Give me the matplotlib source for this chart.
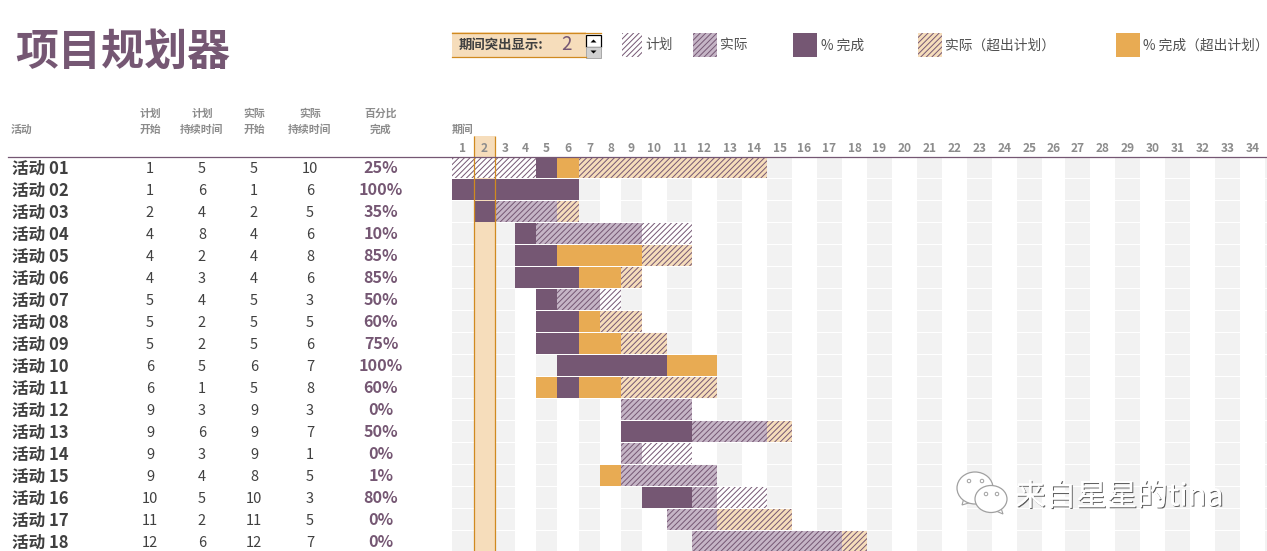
import numpy as np
import matplotlib
matplotlib.use("Agg")
import matplotlib.pyplot as plt
from matplotlib.patches import Rectangle, Ellipse, Polygon
from matplotlib.transforms import blended_transform_factory
import matplotlib.patheffects as pe

plt.rcParams['font.family'] = ['Noto Sans CJK SC', 'DejaVu Sans']
plt.rcParams['hatch.linewidth'] = 0.7

# ---------- data ----------
activities = ['活动 %02d' % i for i in range(1, 19)]
plan_start = [1, 1, 2, 4, 4, 4, 5, 5, 5, 6, 6, 9, 9, 9, 9, 10, 11, 12]
plan_dur = [5, 6, 4, 8, 2, 3, 4, 2, 2, 5, 1, 3, 6, 3, 4, 5, 2, 6]
actual_start = [5, 1, 2, 4, 4, 4, 5, 5, 5, 6, 5, 9, 9, 9, 8, 10, 11, 12]
actual_dur = [10, 6, 5, 6, 8, 6, 3, 5, 6, 7, 8, 3, 7, 1, 5, 3, 5, 7]
percent_done = [25, 100, 35, 10, 85, 85, 50, 60, 75, 100, 60, 0, 50, 0, 1, 80, 0, 0]
periods_done = [2, 6, 1, 1, 6, 5, 1, 3, 4, 7, 4, 0, 3, 0, 1, 2, 0, 0]
periods = list(range(1, 35))
highlight_period = 2
title = '项目规划器'
column_heads = [('计划', '开始'), ('计划', '持续时间'), ('实际', '开始'), ('实际', '持续时间'), ('百分比', '完成')]
legend_labels = ['计划', '实际', '% 完成', '实际（超出计划）', '% 完成（超出计划）']

# ---------- layout / style ----------
W, H = 1267, 551
PURPLE = '#755773'
ORANGE = '#E8AB53'
PEACH = '#F6DDBB'
MAUVE = '#C5B5C6'
STRIPE = '#F2F2F2'
LINE_OR = '#D08A20'
GREY = '#8C8C8C'
DARK = '#404040'
HATCH = '/' * 6
col_widths = [21.5, 21, 20.5, 21, 21, 22, 21, 21, 21, 25, 25, 25, 25, 25, 25, 25, 25, 25, 25,
              25, 25, 25, 25, 25, 25, 23, 25, 25, 25, 25, 25, 25, 25, 25, 25]
edges_px = np.concatenate([[452], 452 + np.cumsum(col_widths)])
edges_p = np.arange(1, len(edges_px) + 1, dtype=float)

fig = plt.figure(figsize=(W / 100, H / 100), dpi=100, facecolor='white')

# page overlay in pixel coordinates (titles, legend, watermark, rules)
pg = fig.add_axes([0, 0, 1, 1], zorder=5)
pg.set_xlim(0, W)
pg.set_ylim(H, 0)
pg.axis('off')
pg.patch.set_alpha(0)

# gantt axes
top_px = 157
row_px = 22
gx = fig.add_axes([452 / W, 0, (W - 452) / W, (H - top_px + 0.5) / H], zorder=2)
gx.set_xscale('function', functions=(lambda p: np.interp(p, edges_p, edges_px),
                                     lambda x: np.interp(x, edges_px, edges_p)))
gx.set_xlim(1, float(np.interp(W, edges_px, edges_p)))
nrows_visible = (H - top_px + 0.5) / row_px
gx.set_ylim(nrows_visible - 0.5, -0.5)
for s in gx.spines.values():
    s.set_visible(False)
gx.set_yticks([])
gx.xaxis.tick_top()
gx.set_xticks([p + 0.5 for p in periods])
gx.set_xticklabels(periods, fontsize=8.6, fontweight='bold', color=GREY)
gx.tick_params(axis='x', length=0, pad=1)
gx.xaxis.set_minor_locator(matplotlib.ticker.NullLocator())

BAR_H = 21 / 22
rows = np.arange(len(activities))
# background stripes
odd = [p for p in range(1, 36, 2)]
for p in odd:
    gx.barh(np.arange(0, 19), 1, left=p, height=BAR_H, color=STRIPE, linewidth=0, zorder=1)

# highlighted column, continues up into the header
tr = gx.get_xaxis_transform()
gx.add_patch(Rectangle((highlight_period, 0), 1, 1 + 20 / (H - top_px), transform=tr,
                       facecolor=PEACH, edgecolor='none', clip_on=False, zorder=1.5))

styles = {
    'plan': dict(color='white', edgecolor=PURPLE, hatch=HATCH, linewidth=0),
    'actual': dict(color=MAUVE, edgecolor=PURPLE, hatch=HATCH, linewidth=0),
    'done': dict(color=PURPLE, linewidth=0),
    'over': dict(color=PEACH, edgecolor=PURPLE, hatch=HATCH, linewidth=0),
    'done_over': dict(color=ORANGE, linewidth=0),
}


def classify(r, p):
    in_plan = plan_start[r] <= p < plan_start[r] + plan_dur[r]
    in_act = actual_start[r] <= p < actual_start[r] + actual_dur[r]
    in_done = actual_start[r] <= p < actual_start[r] + periods_done[r]
    if in_done:
        return 'done' if in_plan else 'done_over'
    if in_act:
        return 'actual' if in_plan else 'over'
    if in_plan:
        return 'plan'
    return None


for r in rows:
    kinds = [classify(r, p) for p in periods]
    i = 0
    while i < len(kinds):
        k = kinds[i]
        if k is None:
            i += 1
            continue
        j = i
        while j + 1 < len(kinds) and kinds[j + 1] == k:
            j += 1
        st = dict(styles[k])
        face = st.pop('color')
        gx.barh(r, j - i + 1, left=periods[i], height=BAR_H, facecolor=face,
                zorder=3, **st)
        i = j + 1

# orange lines around the highlighted column
for p in (highlight_period, highlight_period + 1):
    gx.plot([p, p], [0, 1 + 20 / (H - top_px)], transform=tr, color=LINE_OR, lw=0.9,
            clip_on=False, zorder=4, solid_capstyle='butt')

# header rule
pg.plot([8, W], [156.7, 156.7], color=PURPLE, lw=0.9, zorder=1)

# title
pg.text(15, 52, title, fontsize=31, fontweight='bold', color=PURPLE, va='center', ha='left')

# table body through the gantt's y scale
col_x = [150, 202, 254, 310]
row_tr = blended_transform_factory(pg.transData, gx.transData)
for r in rows:
    gx.text(12, r + 0.07, activities[r], transform=row_tr, fontsize=12, fontweight='bold',
            color=DARK, va='center', ha='left', clip_on=False)
    for x, vals in zip(col_x, (plan_start, plan_dur, actual_start, actual_dur)):
        gx.text(x, r + 0.09, str(vals[r]), transform=row_tr, fontsize=10.5, color=DARK,
                va='center', ha='center', clip_on=False)
    gx.text(381, r + 0.03, '%d%%' % percent_done[r], transform=row_tr, fontsize=11.6,
            fontweight='bold', color=PURPLE, va='center', ha='center', clip_on=False)

# table headings
for x, (a, b) in zip(col_x + [381], column_heads):
    pg.text(x, 113.5, a, fontsize=7.8, color=GREY, va='center', ha='center', fontweight='bold')
    pg.text(x, 129.5, b, fontsize=7.8, color=GREY, va='center', ha='center', fontweight='bold')
pg.text(11, 129.5, '活动', fontsize=7.8, color=GREY, va='center', ha='left', fontweight='bold')
pg.text(452, 129.5, '期间', fontsize=7.8, color=GREY, va='center', ha='left', fontweight='bold')

# period control
pg.add_patch(Rectangle((452, 32), 134, 25.5, facecolor=PEACH, edgecolor='none'))
pg.plot([452, 601], [32.5, 32.5], color=LINE_OR, lw=0.9)
pg.plot([452, 586], [57.3, 57.3], color=LINE_OR, lw=0.9)
pg.text(459, 44.5, '期间突出显示:', fontsize=9.6, fontweight='bold', color=DARK, va='center', ha='left')
pg.text(566, 45, str(highlight_period), fontsize=13.5, color=PURPLE, va='center', ha='center')
pg.add_patch(Rectangle((586, 35), 15, 11.5, facecolor='white', edgecolor='black', lw=0.9))
pg.add_patch(Rectangle((586, 47), 15, 11, facecolor='#D0D0D0', edgecolor='#A8A8A8', lw=0.7))
pg.add_patch(Polygon([[590.5, 42.5], [596.5, 42.5], [593.5, 39.5]], facecolor='black', edgecolor='none'))
pg.add_patch(Polygon([[590.5, 50.5], [596.5, 50.5], [593.5, 53.5]], facecolor='black', edgecolor='none'))

# legend
swatches = [(622, 20, 'plan', 645), (693, 24, 'actual', 720), (793, 24, 'done', 821),
            (918, 24, 'over', 945), (1116, 24, 'done_over', 1143)]
for (x, w, kind, tx), label in zip(swatches, legend_labels):
    st = dict(styles[kind])
    face = st.pop('color')
    pg.add_patch(Rectangle((x, 33), w, 24, facecolor=face, **st))
    pg.text(tx, 45.5, label, fontsize=9.9, color='#505050', va='center', ha='left')

# watermark
for (cx, cy, rx, ry), tail in zip(
        [(975, 488, 18, 16), (991, 499, 16, 13.5)],
        ([[964, 498], [962, 505], [972, 502]], [[996, 511], [1003, 514], [1001, 508]])):
    pg.add_patch(Polygon(tail, facecolor='white', edgecolor='#A0A0A0', lw=0.8))
    pg.add_patch(Ellipse((cx, cy), 2 * rx, 2 * ry, facecolor='white', edgecolor='#A0A0A0', lw=0.9))
for ex, ey in [(969, 481), (982, 481), (986, 494), (997, 494)]:
    pg.add_patch(Ellipse((ex, ey), 3.5, 3.5, facecolor='white', edgecolor='#A0A0A0', lw=0.7))
pg.text(1015, 497, '来自星星的tina', fontsize=22, color='white', va='center', ha='left',
        path_effects=[pe.withSimplePatchShadow(offset=(0.8, -0.8), shadow_rgbFace='#505050', alpha=0.9),
                      pe.Normal()])

fig.savefig('out.png', dpi=100, facecolor='white')
